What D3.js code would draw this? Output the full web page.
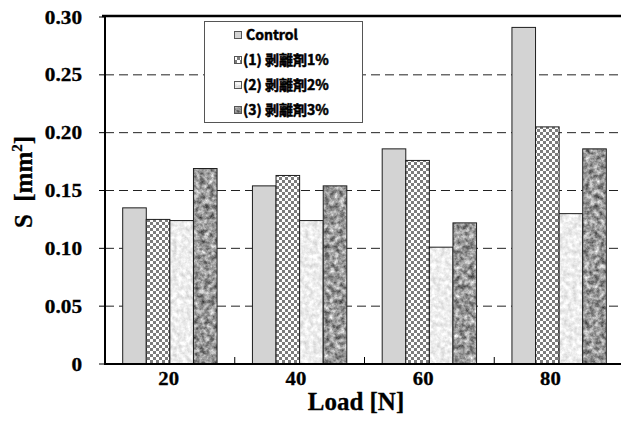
<!DOCTYPE html>
<html>
<head>
<meta charset="utf-8">
<script src="https://cdn.jsdelivr.net/npm/d3@7"></script>
<style>
  body { margin: 0; background: #fff; }
  svg { display: block; }
</style>
</head>
<body>
<svg id="chart"></svg>
<script>
const W = 621, H = 439;

// data
const loads = ["20", "40", "60", "80"];
const seriesNames = ["Control", "(1) 剥離剤1%", "(2) 剥離剤2%", "(3) 剥離剤3%"];
const control = [0.135, 0.154, 0.186, 0.291];
const agent1 = [0.125, 0.163, 0.176, 0.205];
const agent2 = [0.124, 0.124, 0.101, 0.130];
const agent3 = [0.169, 0.154, 0.122, 0.186];
const yTicks = [0, 0.05, 0.10, 0.15, 0.20, 0.25, 0.30];
const yTickLabels = ["0", "0.05", "0.10", "0.15", "0.20", "0.25", "0.30"];

const allSeries = [control, agent1, agent2, agent3];

const svg = d3.select("#chart").attr("width", W).attr("height", H);

// plot frame
const plot = { left: 105, top: 17, right: 624, bottom: 364 };

const x = d3.scaleBand().domain(loads).range([plot.left, plot.right]);
const xSub = d3.scaleBand().domain(d3.range(4))
  .range([0, x.bandwidth()]).paddingInner(0).paddingOuter(0.75);
const xLabel = d3.scaleBand().domain(loads).range([plot.left, 614]);
const y = d3.scaleLinear().domain([0, 0.30]).range([plot.bottom, plot.top]);

// =========================
// FILLS
// =========================
const defs = svg.append("defs");

const checker = defs.append("pattern")
  .attr("id", "pChecker")
  .attr("patternUnits", "userSpaceOnUse")
  .attr("width", 6).attr("height", 6);
checker.append("rect").attr("width", 6).attr("height", 6).attr("fill", "#fff");
checker.append("rect").attr("width", 3).attr("height", 3).attr("fill", "#7c7c7c");
checker.append("rect").attr("x", 3).attr("y", 3).attr("width", 3).attr("height", 3).attr("fill", "#7c7c7c");

// granite-like texture (svg turbulence)
function noiseFill(id, a, b, freq, seed) {
  const f = defs.append("filter")
    .attr("id", id + "F")
    .attr("filterUnits", "userSpaceOnUse")
    .attr("x", 0).attr("y", 0).attr("width", W).attr("height", H)
    .attr("color-interpolation-filters", "sRGB");
  f.append("feTurbulence")
    .attr("type", "fractalNoise")
    .attr("baseFrequency", freq)
    .attr("numOctaves", 4)
    .attr("seed", seed);
  f.append("feColorMatrix")
    .attr("type", "matrix")
    .attr("values", `${a} 0 0 0 ${b}  ${a} 0 0 0 ${b}  ${a} 0 0 0 ${b}  0 0 0 0 1`);
  const p = defs.append("pattern")
    .attr("id", id)
    .attr("patternUnits", "userSpaceOnUse")
    .attr("width", W).attr("height", H);
  p.append("rect").attr("width", W).attr("height", H)
    .attr("fill", "#fff").attr("filter", `url(#${id}F)`);
}
noiseFill("pLight", 0.3, 0.78, 0.22, 3);
noiseFill("pDark", 1.0, 0.1, 0.2, 7);

const fills = ["#d3d3d3", "url(#pChecker)", "url(#pLight)", "url(#pDark)"];

// =========================
// GRID
// =========================
svg.append("g")
  .selectAll("line")
  .data(yTicks.filter(t => t > 0 && t < 0.30))
  .join("line")
  .attr("x1", plot.left).attr("x2", W)
  .attr("y1", d => y(d)).attr("y2", d => y(d))
  .attr("stroke", "#222")
  .attr("stroke-width", 1)
  .attr("stroke-dasharray", "9,5");

// =========================
// BARS
// =========================
const barData = loads.flatMap((load, i) =>
  allSeries.map((s, k) => ({ load, k, value: s[i] }))
);

svg.append("g")
  .selectAll("rect")
  .data(barData)
  .join("rect")
  .attr("x", d => x(d.load) + xSub(d.k))
  .attr("y", d => y(d.value))
  .attr("width", xSub.bandwidth())
  .attr("height", d => y(0) - y(d.value))
  .attr("fill", d => fills[d.k])
  .attr("stroke", "#1e1e1e")
  .attr("stroke-width", 1);

// =========================
// AXES
// =========================
const axisG = svg.append("g");

// y ticks (outward)
axisG.selectAll(".ytick")
  .data(yTicks)
  .join("line")
  .attr("x1", plot.left - 6).attr("x2", plot.left)
  .attr("y1", d => y(d)).attr("y2", d => y(d))
  .attr("stroke", "#000").attr("stroke-width", 1);

// x ticks at category boundaries (inward)
axisG.selectAll(".xtick")
  .data(loads.slice(1))
  .join("line")
  .attr("x1", d => x(d)).attr("x2", d => x(d))
  .attr("y1", plot.bottom - 7).attr("y2", plot.bottom)
  .attr("stroke", "#000").attr("stroke-width", 1);

// top border
axisG.append("line")
  .attr("x1", plot.left - 3).attr("x2", W)
  .attr("y1", y(0.30) - 1).attr("y2", y(0.30) - 1)
  .attr("stroke", "#000").attr("stroke-width", 2.5);
// left axis
axisG.append("line")
  .attr("x1", plot.left).attr("x2", plot.left)
  .attr("y1", y(0.30) - 2).attr("y2", y(0) + 1)
  .attr("stroke", "#000").attr("stroke-width", 2);
// bottom axis
axisG.append("line")
  .attr("x1", plot.left - 1).attr("x2", W)
  .attr("y1", y(0)).attr("y2", y(0))
  .attr("stroke", "#000").attr("stroke-width", 2);

// y tick labels
svg.append("g")
  .selectAll("text")
  .data(yTicks)
  .join("text")
  .attr("transform", d => `translate(82, ${y(d) + 6.5}) scale(1.18, 1)`)
  .attr("text-anchor", "end")
  .attr("font-family", "'Liberation Serif', 'Times New Roman', serif")
  .attr("font-weight", "bold")
  .attr("font-size", 18)
  .attr("fill", "#000")
  .attr("stroke", "#000").attr("stroke-width", 0.3)
  .text((d, i) => yTickLabels[i]);

// x tick labels
svg.append("g")
  .selectAll("text")
  .data(loads)
  .join("text")
  .attr("transform", d => `translate(${xLabel(d) + xLabel.bandwidth() / 2}, 385) scale(1.15, 1)`)
  .attr("text-anchor", "middle")
  .attr("font-family", "'Liberation Serif', 'Times New Roman', serif")
  .attr("font-weight", "bold")
  .attr("font-size", 18)
  .attr("fill", "#000")
  .attr("stroke", "#000").attr("stroke-width", 0.3)
  .text(d => d);

// axis titles
svg.append("text")
  .attr("x", 356).attr("y", 410)
  .attr("text-anchor", "middle")
  .attr("font-family", "'Liberation Serif', 'Times New Roman', serif")
  .attr("font-weight", "bold")
  .attr("font-size", 25)
  .attr("stroke", "#000").attr("stroke-width", 0.3)
  .text("Load [N]");

const yTitle = svg.append("text")
  .attr("transform", "translate(32, 182) rotate(-90)")
  .attr("text-anchor", "middle")
  .attr("font-family", "'Liberation Serif', 'Times New Roman', serif")
  .attr("font-weight", "bold")
  .attr("font-size", 25)
  .attr("stroke", "#000").attr("stroke-width", 0.3)
  .style("white-space", "pre");
yTitle.append("tspan").text("S  [mm");
yTitle.append("tspan").attr("font-size", 15).attr("dy", -10).text("2");
yTitle.append("tspan").attr("dy", 10).text("]");

// =========================
// LEGEND
// =========================
const legend = svg.append("g");
legend.append("rect")
  .attr("x", 204.5).attr("y", 21.5)
  .attr("width", 158).attr("height", 101)
  .attr("fill", "#fff")
  .attr("stroke", "#555")
  .attr("stroke-width", 1);

const legendY = d3.scalePoint().domain(d3.range(4)).range([35, 110]);

const rows = legend.selectAll(".row")
  .data(seriesNames)
  .join("g")
  .attr("transform", (d, i) => `translate(0, ${legendY(i)})`);

rows.append("rect")
  .attr("x", 234.5).attr("y", -3.5)
  .attr("width", 7).attr("height", 7)
  .attr("fill", (d, i) => fills[i])
  .attr("stroke", "#555")
  .attr("stroke-width", 1);

rows.append("text")
  .attr("x", (d, i) => i === 0 ? 246 : 243)
  .attr("y", 5)
  .attr("font-family", "'Noto Sans CJK JP', 'Noto Sans', sans-serif")
  .attr("font-weight", "bold")
  .attr("font-size", 14)
  .attr("fill", "#000")
  .attr("stroke", "#000").attr("stroke-width", 0.5)
  .text(d => d);
</script>
</body>
</html>
